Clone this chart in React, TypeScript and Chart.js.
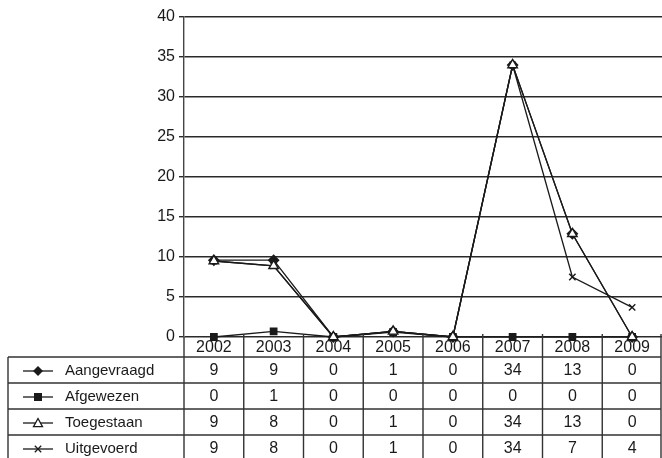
import React, { useEffect, useRef } from "react";
import { Chart, registerables } from "chart.js";

Chart.register(...registerables);

const categories = ["2002", "2003", "2004", "2005", "2006", "2007", "2008", "2009"];
const seriesNames = ["Aangevraagd", "Afgewezen", "Toegestaan", "Uitgevoerd"];

const aangevraagd = [9.6, 9.6, 0, 0.7, 0, 34, 12.9, 0];
const afgewezen = [0, 0.7, 0, 0.6, 0, 0, 0, 0];
const toegestaan = [9.5, 8.9, 0, 0.7, 0, 34, 12.9, 0];
const uitgevoerd = [9.5, 8.9, 0, 0.7, 0, 34, 7.5, 3.7];

const tableAangevraagd = ["9", "9", "0", "1", "0", "34", "13", "0"];
const tableAfgewezen = ["0", "1", "0", "0", "0", "0", "0", "0"];
const tableToegestaan = ["9", "8", "0", "1", "0", "34", "13", "0"];
const tableUitgevoerd = ["9", "8", "0", "1", "0", "34", "7", "4"];

const yTicks = [0, 5, 10, 15, 20, 25, 30, 35, 40];

const FONT = '"Liberation Sans", Arial, sans-serif';
const INK = "#1a1a1a";

function drawMarker(ctx: CanvasRenderingContext2D, kind: string, x: number, y: number) {
  ctx.save();
  ctx.strokeStyle = INK;
  ctx.fillStyle = INK;
  ctx.lineWidth = 1.3;
  ctx.beginPath();
  if (kind === "diamond") {
    const r = 5;
    ctx.moveTo(x, y - r);
    ctx.lineTo(x + r, y);
    ctx.lineTo(x, y + r);
    ctx.lineTo(x - r, y);
    ctx.closePath();
    ctx.fill();
  } else if (kind === "square") {
    const r = 4;
    ctx.rect(x - r, y - r, 2 * r, 2 * r);
    ctx.fill();
  } else if (kind === "triangle") {
    const r = 4.5;
    ctx.moveTo(x, y - r);
    ctx.lineTo(x + r, y + r * 0.8);
    ctx.lineTo(x - r, y + r * 0.8);
    ctx.closePath();
    ctx.fillStyle = "#fff";
    ctx.fill();
    ctx.stroke();
  } else {
    const r = 3.2;
    ctx.moveTo(x - r, y - r);
    ctx.lineTo(x + r, y + r);
    ctx.moveTo(x + r, y - r);
    ctx.lineTo(x - r, y + r);
    ctx.stroke();
  }
  ctx.restore();
}

const tablePlugin = {
  id: "dataTable",
  afterDraw(chart: any) {
    const ctx: CanvasRenderingContext2D = chart.ctx;
    const area = chart.chartArea;
    const xs = chart.scales.x;
    const left = area.left;
    const right = Math.min(area.right, chart.width - 1);
    const top = area.bottom;
    const headerH = 20;
    const rowH = 26;
    const tableLeft = 8;
    const n = categories.length;
    const colW = (area.right - area.left) / n;
    const rows = [tableAangevraagd, tableAfgewezen, tableToegestaan, tableUitgevoerd];
    const kinds = ["diamond", "square", "triangle", "cross"];
    const bottom = top + headerH + rowH * rows.length;

    ctx.save();
    ctx.strokeStyle = "#333";
    ctx.lineWidth = 1.4;
    ctx.beginPath();
    for (let r = 0; r <= rows.length; r++) {
      const y = top + headerH + r * rowH;
      ctx.moveTo(tableLeft, y);
      ctx.lineTo(right, y);
    }
    ctx.moveTo(tableLeft, top + headerH);
    ctx.lineTo(tableLeft, bottom);
    for (let i = 0; i <= n; i++) {
      const x = Math.min(left + i * colW, right);
      ctx.moveTo(x, i === 0 ? top : top - 3);
      ctx.lineTo(x, bottom);
    }
    ctx.stroke();

    ctx.fillStyle = INK;
    ctx.textBaseline = "middle";
    rows.forEach((vals, r) => {
      const cy = top + headerH + r * rowH + rowH / 2 + 1;
      ctx.save();
      ctx.strokeStyle = INK;
      ctx.lineWidth = 1.3;
      ctx.beginPath();
      ctx.moveTo(23, cy);
      ctx.lineTo(53, cy);
      ctx.stroke();
      ctx.restore();
      drawMarker(ctx, kinds[r], 38, cy);
      ctx.textAlign = "left";
      ctx.font = "15px " + FONT;
      ctx.fillText(seriesNames[r], 65, cy);
      ctx.textAlign = "center";
      ctx.font = "16px " + FONT;
      vals.forEach((v, i) => {
        ctx.fillText(v, xs.getPixelForValue(i), cy);
      });
    });
    ctx.restore();
  },
};

export default function App() {
  const ref = useRef<HTMLCanvasElement | null>(null);
  useEffect(() => {
    document.body.style.margin = "0";
    const canvas = ref.current;
    if (!canvas) return;
    const ds = (label: string, data: number[], style: string, radius: number, bg: string, order: number) => ({
      label,
      data,
      order,
      borderColor: INK,
      borderWidth: 1.3,
      pointStyle: style,
      pointRadius: radius,
      pointBackgroundColor: bg,
      pointBorderColor: INK,
      pointBorderWidth: 1.4,
      tension: 0,
      fill: false,
      clip: false,
    });
    const chart = new Chart(canvas, {
      type: "line",
      data: {
        labels: categories,
        datasets: [
          ds(seriesNames[0], aangevraagd, "rectRot", 5, INK, 1),
          ds(seriesNames[1], afgewezen, "rect", 4.5, INK, 2),
          ds(seriesNames[2], toegestaan, "triangle", 5.5, "#fff", 0),
          ds(seriesNames[3], uitgevoerd, "crossRot", 4.5, INK, 2),
        ] as any,
      },
      options: {
        responsive: false,
        animation: false,
        layout: { autoPadding: false, padding: { top: 17, right: 0, left: 0, bottom: 0 } },
        plugins: { legend: { display: false }, tooltip: { enabled: false } },
        scales: {
          x: {
            type: "category",
            offset: true,
            grid: { display: false, drawTicks: false },
            border: { display: false },
            ticks: {
              color: INK,
              font: { family: FONT, size: 16 },
              padding: 1,
              maxRotation: 0,
              autoSkip: false,
            },
            afterFit: (s: any) => {
              s.height = 121;
              s.paddingLeft = 0;
              s.paddingRight = 0;
            },
          },
          y: {
            min: 0,
            max: 40,
            afterBuildTicks: (s: any) => {
              s.ticks = yTicks.map((v) => ({ value: v }));
            },
            grid: { color: "#2a2a2a", lineWidth: 1.4, tickLength: 5, drawTicks: true },
            border: { display: true, color: "#444", width: 1.4 },
            ticks: {
              color: INK,
              font: { family: FONT, size: 16 },
              padding: 4,
            },
            afterFit: (s: any) => {
              s.width = 184;
              s.paddingTop = 0;
              s.paddingBottom = 0;
            },
          },
        },
      },
      plugins: [tablePlugin],
    });
    return () => chart.destroy();
  }, []);
  return <canvas ref={ref} width={662} height={458} style={{ display: "block" }} />;
}
